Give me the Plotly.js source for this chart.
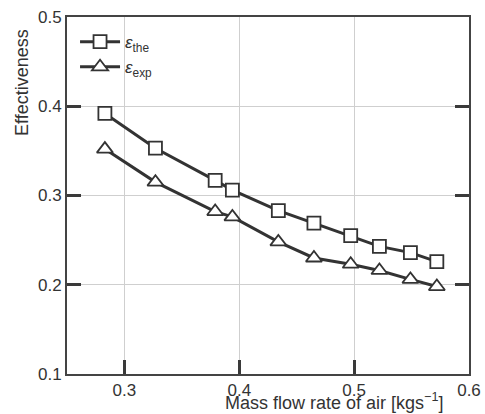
<!DOCTYPE html>
<html><head><meta charset="utf-8">
<script src="https://cdn.plot.ly/plotly-3.0.1.min.js"></script>
<style>body{margin:0;background:#fff}</style>
</head><body>
<div id="chart" style="width:485px;height:414px"></div>
<div id="err" style="position:absolute;left:80px;top:300px;font:10px sans-serif;color:red;width:380px"></div>
<script>
window.onerror = function(m){ document.getElementById('err').textContent += ' ' + m; };
const massFlow = [0.283, 0.327, 0.379, 0.394, 0.434, 0.465, 0.497, 0.522, 0.549, 0.572];
const effTheory = [0.392, 0.353, 0.317, 0.306, 0.283, 0.269, 0.255, 0.243, 0.236, 0.226];
const effExp = [0.352, 0.315, 0.282, 0.276, 0.248, 0.230, 0.223, 0.216, 0.206, 0.198];
const seriesNames = ['<i>ε</i><sub>the</sub>', '<i>ε</i><sub>exp</sub>'];
const xTitle = 'Mass flow rate of air [kgs<sup>−1</sup>]';
const yTitle = 'Effectiveness';

const ink = '#333';
const fam = 'Liberation Sans, Arial, sans-serif';
const traces = [
  {x: massFlow, y: effTheory, name: seriesNames[0], mode: 'lines+markers',
   line: {color: ink, width: 3},
   marker: {symbol: 'square', size: 13, color: '#fff', line: {color: ink, width: 1.8}}},
  {x: massFlow, y: effExp, name: seriesNames[1], mode: 'lines+markers',
   line: {color: ink, width: 3},
   marker: {symbol: 'triangle-up', size: 14, color: '#fff', line: {color: ink, width: 1.8}}}
];
const layout = {
  width: 485, height: 414,
  margin: {l: 67, r: 16, t: 17, b: 40},
  paper_bgcolor: '#fff', plot_bgcolor: '#fff',
  font: {family: fam, color: ink},
  showlegend: true,
  legend: {x: 0.02, y: 0.98, xanchor: 'left', yanchor: 'top', bgcolor: 'rgba(0,0,0,0)',
           font: {size: 17, color: ink}, itemwidth: 40, tracegroupgap: 0},
  xaxis: {range: [0.25, 0.6], tick0: 0.3, dtick: 0.1, tickformat: '.1f',
    showline: true, linecolor: '#444', linewidth: 2, mirror: true,
    ticks: 'inside', ticklen: 14, tickwidth: 3, tickcolor: '#3a3a3a',
    showgrid: true, gridcolor: '#cfcfcf', zeroline: false,
    tickfont: {family: fam, size: 17, color: ink}},
  yaxis: {range: [0.1, 0.5], tick0: 0.1, dtick: 0.1, tickformat: '.1f',
    showline: true, linecolor: '#444', linewidth: 2, mirror: 'ticks',
    ticks: 'inside', ticklen: 14, tickwidth: 3, tickcolor: '#3a3a3a',
    showgrid: true, gridcolor: '#cfcfcf', zeroline: false,
    tickfont: {family: fam, size: 17, color: ink}},
  annotations: [
    {text: xTitle, xref: 'paper', yref: 'paper', x: 0.94, y: -0.115,
     xanchor: 'right', yanchor: 'bottom', showarrow: false, font: {size: 18, color: ink, family: fam}},
    {text: yTitle, xref: 'paper', yref: 'paper', x: -0.112, y: 0.818, textangle: -90,
     xanchor: 'center', yanchor: 'middle', showarrow: false, font: {size: 18, color: ink, family: fam}}
  ]
};
Plotly.newPlot('chart', traces, layout, {displayModeBar: false})
  .catch(function(e){ document.getElementById('err').textContent += ' ' + e; });
</script>
</body></html>
